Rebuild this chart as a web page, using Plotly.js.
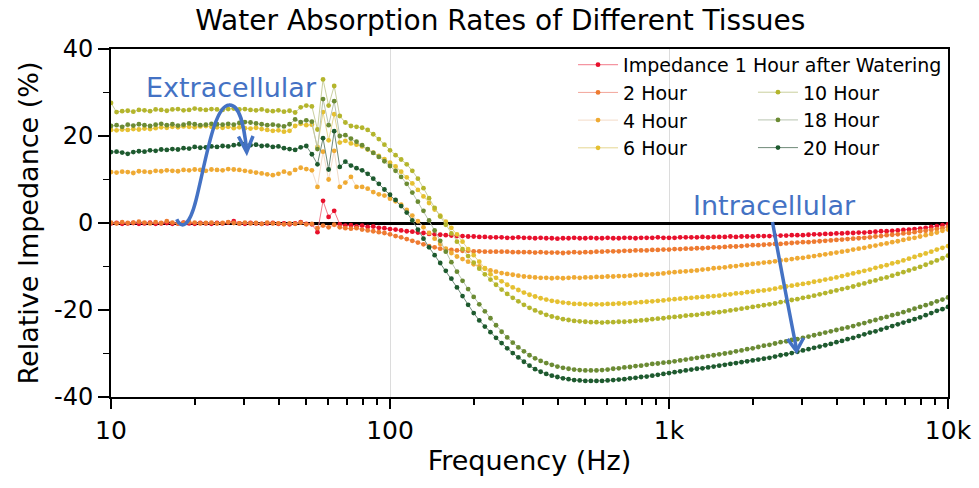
<!DOCTYPE html>
<html>
<head>
<meta charset="utf-8">
<script src="https://cdn.plot.ly/plotly-3.0.1.min.js"></script>
<style>html,body{margin:0;padding:0;background:#fff;}#chart{width:979px;height:488px;}</style>
</head>
<body>
<div id="chart"></div>
<script>
// Frequency sweep: 50 points per decade (mantissa table) over three decades
const MANTISSA = [1, 1.0471, 1.0965, 1.1482, 1.2023, 1.2589, 1.3183, 1.3804, 1.4454, 1.5136,
  1.5849, 1.6596, 1.7378, 1.8197, 1.9055, 1.9953, 2.0893, 2.1878, 2.2909, 2.3988,
  2.5119, 2.6303, 2.7542, 2.884, 3.02, 3.1623, 3.3113, 3.4674, 3.6308, 3.8019,
  3.9811, 4.1687, 4.3652, 4.5709, 4.7863, 5.0119, 5.2481, 5.4954, 5.7544, 6.0256,
  6.3096, 6.6069, 6.9183, 7.2444, 7.5858, 7.9433, 8.3176, 8.7096, 9.1201, 9.5499];
const DECADES = [10, 100, 1000];
const LAST_FREQ = 10000;

const SERIES_NAMES = ["Impedance 1 Hour after Watering", "2 Hour", "4 Hour", "6 Hour", "10 Hour", "18 Hour", "20 Hour"];

const H1 = [-0.1,0.0,-0.2,-0.1,0.0,-0.2,-0.1,0.1,-0.2,-0.1,
  0.0,-0.2,-0.1,0.1,-0.1,-0.2,0.0,-0.1,-0.2,0.0,
  -0.1,0.1,0.4,-0.1,-0.2,0.0,-0.1,-0.2,-0.1,0.0,
  -0.2,-0.1,-0.3,-0.1,0.2,-0.2,-0.3,-2.1,5.1,1.4,
  2.8,-0.3,-0.6,-0.5,-0.8,-0.6,-0.9,-0.8,-1.1,-1.2,
  -1.4,-1.5,-1.7,-1.9,-2.0,-2.2,-2.3,-2.5,-2.6,-2.7,
  -2.8,-2.9,-3.0,-3.0,-3.1,-3.1,-3.2,-3.2,-3.3,-3.3,
  -3.3,-3.4,-3.4,-3.3,-3.4,-3.4,-3.5,-3.4,-3.5,-3.5,
  -3.6,-3.5,-3.5,-3.4,-3.5,-3.5,-3.4,-3.5,-3.5,-3.4,
  -3.5,-3.5,-3.4,-3.4,-3.5,-3.4,-3.4,-3.4,-3.3,-3.4,
  -3.4,-3.4,-3.3,-3.3,-3.3,-3.3,-3.2,-3.3,-3.2,-3.2,
  -3.2,-3.1,-3.2,-3.1,-3.1,-3.1,-3.0,-3.0,-3.0,-2.9,
  -2.9,-2.9,-2.8,-2.8,-2.8,-2.7,-2.6,-2.6,-2.5,-2.5,
  -2.4,-2.4,-2.3,-2.3,-2.2,-2.2,-2.1,-2.0,-1.9,-1.9,
  -1.8,-1.7,-1.6,-1.5,-1.4,-1.3,-1.1,-0.9,-0.7,-0.5,
  -0.3];

const H2 = [0.1,-0.1,0.2,0.0,0.1,0.3,0.1,-0.1,0.2,0.0,
  0.4,0.1,-0.1,0.0,0.2,0.1,-0.1,0.0,0.1,-0.1,
  0.0,0.2,0.0,-0.1,0.1,-0.1,0.0,-0.2,0.1,-0.1,
  -0.1,-0.3,-0.1,-0.2,0.1,-0.3,-0.2,-1.2,-0.6,-1.0,
  -0.4,-1.0,-1.2,-1.3,-1.2,-1.5,-1.7,-1.9,-2.1,-2.3,
  -2.6,-3.0,-3.3,-3.7,-4.1,-4.5,-4.9,-5.3,-5.6,-5.9,
  -6.1,-6.2,-6.3,-6.4,-6.4,-6.5,-6.5,-6.6,-6.6,-6.6,
  -6.6,-6.6,-6.7,-6.7,-6.7,-6.7,-6.8,-6.7,-6.8,-6.8,
  -6.8,-6.9,-6.8,-6.7,-6.8,-6.7,-6.7,-6.6,-6.6,-6.5,
  -6.5,-6.5,-6.4,-6.4,-6.3,-6.3,-6.3,-6.2,-6.2,-6.1,
  -6.1,-6.0,-6.0,-5.9,-5.9,-5.8,-5.8,-5.7,-5.6,-5.6,
  -5.5,-5.4,-5.4,-5.3,-5.2,-5.1,-5.1,-5.0,-4.9,-4.8,
  -4.8,-4.7,-4.6,-4.5,-4.4,-4.4,-4.3,-4.2,-4.1,-4.0,
  -3.9,-3.8,-3.7,-3.6,-3.5,-3.4,-3.3,-3.1,-3.0,-2.8,
  -2.7,-2.6,-2.4,-2.3,-2.1,-1.9,-1.8,-1.6,-1.4,-1.2,
  -0.9];

const H4 = [11.7,11.6,11.8,11.7,11.5,11.9,11.8,11.7,12.0,11.9,
  12.1,12.0,11.9,12.2,12.1,12.3,12.2,12.0,12.3,12.2,
  12.1,12.4,12.3,12.2,12.0,11.8,11.6,11.4,11.2,11.0,
  11.3,11.8,11.4,12.2,12.7,12.4,12.1,8.3,16.4,10.0,
  16.6,8.3,9.3,10.6,8.3,8.3,7.9,7.1,6.6,6.3,
  5.6,5.0,4.2,3.0,1.7,0.4,-1.0,-2.3,-3.6,-4.8,
  -5.9,-6.9,-7.7,-8.3,-8.9,-9.5,-10.0,-10.5,-10.9,-11.2,
  -11.5,-11.7,-11.9,-12.1,-12.3,-12.4,-12.5,-12.6,-12.6,-12.7,
  -12.6,-12.7,-12.6,-12.5,-12.6,-12.5,-12.5,-12.4,-12.4,-12.3,
  -12.3,-12.2,-12.2,-12.1,-12.0,-11.9,-11.9,-11.8,-11.7,-11.6,
  -11.4,-11.3,-11.2,-11.1,-11.0,-10.9,-10.7,-10.6,-10.4,-10.3,
  -10.2,-10.0,-9.9,-9.7,-9.6,-9.4,-9.3,-9.1,-9.0,-8.8,
  -8.6,-8.5,-8.3,-8.1,-8.0,-7.8,-7.6,-7.4,-7.2,-7.0,
  -6.8,-6.6,-6.4,-6.1,-5.9,-5.7,-5.4,-5.2,-4.9,-4.7,
  -4.4,-4.2,-3.9,-3.6,-3.4,-3.1,-2.8,-2.5,-2.2,-1.8,
  -1.5];

const H6 = [21.4,21.3,21.5,21.4,21.6,21.5,21.7,21.6,21.8,22.0,
  21.9,22.1,22.0,22.2,22.1,22.0,22.2,22.3,22.1,22.0,
  21.9,22.1,21.8,22.0,21.8,21.7,21.9,21.6,21.4,21.2,
  21.3,21.0,21.2,22.3,22.8,22.5,22.6,17.5,25.5,19.0,
  25.0,18.5,18.9,18.3,18.0,17.6,16.9,16.2,15.4,14.7,
  13.9,13.0,11.8,10.5,9.1,7.6,6.1,4.6,3.1,1.7,
  0.3,-1.1,-2.6,-4.3,-6.0,-7.4,-8.9,-10.4,-11.8,-12.6,
  -13.4,-14.2,-14.8,-15.4,-16.0,-16.5,-16.9,-17.3,-17.6,-17.9,
  -18.1,-18.3,-18.4,-18.6,-18.6,-18.7,-18.7,-18.7,-18.7,-18.6,
  -18.6,-18.5,-18.5,-18.4,-18.3,-18.2,-18.1,-18.0,-17.9,-17.8,
  -17.6,-17.5,-17.4,-17.3,-17.2,-17.1,-17.0,-16.9,-16.8,-16.7,
  -16.5,-16.4,-16.2,-16.1,-15.9,-15.8,-15.6,-15.5,-15.3,-15.1,
  -14.8,-14.6,-14.4,-14.2,-14.0,-13.8,-13.5,-13.3,-13.0,-12.8,
  -12.5,-12.2,-11.9,-11.6,-11.3,-11.0,-10.7,-10.3,-10.0,-9.7,
  -9.3,-9.0,-8.6,-8.2,-7.8,-7.4,-7.0,-6.6,-6.1,-5.7,
  -5.3];

const H10 = [27.6,25.5,25.7,25.8,25.6,26.0,25.9,25.7,26.1,26.0,
  25.8,26.1,26.2,25.9,26.0,26.3,26.1,26.0,26.2,26.1,
  26.0,26.2,26.3,26.1,26.2,26.0,25.9,26.1,25.8,25.7,
  25.9,25.6,25.8,25.4,26.6,27.0,26.8,21.5,33.0,27.0,
  31.5,24.6,23.1,22.3,22.1,21.9,21.4,20.4,19.3,18.0,
  16.7,15.6,14.6,13.5,12.0,10.2,8.0,5.7,3.5,1.5,
  -0.4,-2.4,-4.3,-6.0,-7.6,-9.1,-10.5,-11.8,-13.0,-14.2,
  -15.3,-16.3,-17.2,-18.0,-18.8,-19.5,-20.1,-20.6,-21.1,-21.5,
  -21.8,-22.1,-22.3,-22.5,-22.6,-22.7,-22.8,-22.8,-22.9,-22.8,
  -22.8,-22.7,-22.7,-22.6,-22.5,-22.4,-22.3,-22.1,-22.0,-21.9,
  -21.7,-21.6,-21.5,-21.3,-21.2,-21.1,-20.9,-20.8,-20.6,-20.5,
  -20.3,-20.1,-19.9,-19.7,-19.5,-19.3,-19.1,-18.9,-18.7,-18.5,
  -18.2,-18.0,-17.7,-17.5,-17.2,-17.0,-16.7,-16.4,-16.1,-15.8,
  -15.5,-15.2,-14.9,-14.6,-14.2,-13.9,-13.5,-13.2,-12.8,-12.5,
  -12.1,-11.7,-11.3,-10.9,-10.5,-10.1,-9.6,-9.1,-8.6,-8.1,
  -7.5];

const H18 = [22.3,22.5,22.1,22.6,22.4,22.7,22.5,22.3,22.6,22.8,
  22.5,22.7,22.4,22.6,22.9,22.7,22.5,22.6,22.8,22.7,
  22.6,22.8,22.6,23.0,23.2,23.1,22.9,22.7,22.5,22.6,
  22.4,22.2,22.7,23.8,23.2,23.6,23.3,17.0,28.5,22.5,
  28.0,20.0,20.2,19.4,18.7,17.9,17.0,16.1,15.2,14.2,
  13.1,12.0,10.6,9.0,7.0,4.9,2.8,0.6,-1.7,-4.1,
  -6.6,-9.0,-11.2,-13.3,-15.2,-17.0,-18.7,-20.3,-21.9,-23.5,
  -25.0,-26.3,-27.5,-28.6,-29.5,-30.4,-31.1,-31.7,-32.2,-32.6,
  -33.0,-33.3,-33.5,-33.7,-33.8,-33.9,-33.9,-33.9,-33.8,-33.7,
  -33.5,-33.4,-33.2,-33.1,-32.9,-32.8,-32.6,-32.4,-32.3,-32.1,
  -32.0,-31.8,-31.6,-31.4,-31.2,-31.0,-30.8,-30.6,-30.4,-30.2,
  -30.0,-29.8,-29.5,-29.3,-29.0,-28.8,-28.5,-28.2,-28.0,-27.7,
  -27.4,-27.2,-26.9,-26.7,-26.4,-26.1,-25.8,-25.5,-25.2,-24.9,
  -24.6,-24.3,-24.0,-23.7,-23.3,-23.0,-22.6,-22.3,-21.9,-21.6,
  -21.2,-20.9,-20.5,-20.1,-19.7,-19.3,-18.9,-18.5,-18.0,-17.6,
  -17.1];

const H20 = [16.3,16.4,16.2,15.9,16.3,16.5,16.4,16.7,16.6,16.9,
  16.8,17.0,16.9,17.2,17.1,17.5,17.3,17.4,17.6,17.5,
  17.7,17.6,17.9,18.1,18.2,17.9,18.0,17.7,17.8,17.5,
  17.6,17.2,17.0,16.8,17.4,17.7,15.8,13.5,19.5,12.3,
  21.1,12.9,14.1,13.2,12.6,12.1,11.3,10.2,9.0,7.7,
  6.5,5.3,3.9,2.4,0.6,-1.5,-3.6,-5.6,-7.4,-9.2,
  -11.0,-12.8,-14.8,-16.8,-18.8,-20.7,-22.4,-23.8,-25.1,-26.4,
  -27.6,-28.8,-29.9,-30.9,-31.9,-32.8,-33.6,-34.2,-34.7,-35.1,
  -35.4,-35.7,-35.9,-36.1,-36.2,-36.3,-36.3,-36.3,-36.3,-36.2,
  -36.1,-36.0,-35.9,-35.7,-35.6,-35.4,-35.3,-35.1,-34.9,-34.7,
  -34.5,-34.3,-34.1,-33.9,-33.7,-33.5,-33.4,-33.2,-33.0,-32.8,
  -32.6,-32.4,-32.2,-32.0,-31.8,-31.6,-31.4,-31.2,-31.0,-30.7,
  -30.4,-30.2,-29.9,-29.6,-29.3,-29.0,-28.7,-28.4,-28.1,-27.8,
  -27.4,-27.1,-26.7,-26.4,-26.0,-25.6,-25.2,-24.9,-24.5,-24.1,
  -23.7,-23.3,-22.9,-22.5,-22.1,-21.7,-21.2,-20.7,-20.2,-19.8,
  -19.3];

const X_TICK_VALUES = [10, 100, 1000, 10000];
const X_TICK_LABELS = ["10", "100", "1k", "10k"];
const Y_TICK_VALUES = [-40, -20, 0, 20, 40];
const Y_TICK_LABELS = ["-40", "-20", "0", "20", "40"];

// ---- styling ----
const FONT = "DejaVu Sans, Arial, sans-serif";
const MARKER_COLORS = ["#e8102c", "#ee7b30", "#efaa33", "#e5c030", "#b4b52c", "#6b8b33", "#1d5a2e"];
const LINE_COLORS = ["#f27a8a", "#f2a59a", "#f3dcc8", "#e5d690", "#c9cf9e", "#b8c4b0", "#6f8a78"];
const LEGEND_OF = ["legend", "legend", "legend", "legend", "legend2", "legend2", "legend2"];

const freq = [];
DECADES.forEach(d => MANTISSA.forEach(m => freq.push(+(d * m).toFixed(3))));
freq.push(LAST_FREQ);

const values = [H1, H2, H4, H6, H10, H18, H20];
const traces = values.map((v, k) => ({
  type: "scatter",
  mode: "lines+markers",
  name: SERIES_NAMES[k],
  x: freq,
  y: v,
  legend: LEGEND_OF[k],
  line: {color: LINE_COLORS[k], width: 1},
  marker: {color: MARKER_COLORS[k], size: 4.8},
  hoverinfo: "skip"
}));

const PLOT = {l: 111, t: 49, w: 837, h: 348};
function pp(px, py) {
  return ((px - PLOT.l) / PLOT.w).toFixed(4) + "," + ((PLOT.t + PLOT.h - py) / PLOT.h).toFixed(4);
}
const BLUE = "#4472c4";
const arrow1 = "M " + pp(176.7, 219.3) + " C " + pp(181, 229) + " " + pp(189, 228) + " " + pp(196, 200) +
  " C " + pp(206, 160) + " " + pp(214, 106) + " " + pp(229, 105) +
  " C " + pp(240, 104) + " " + pp(244, 126) + " " + pp(246.7, 150);
const head1 = "M " + pp(238.5, 136.5) + " L " + pp(246.7, 152) + " L " + pp(253, 136);
const arrow2 = "M " + pp(772.5, 222) + " Q " + pp(783, 280) + " " + pp(796.5, 349);
const head2 = "M " + pp(787.5, 339) + " L " + pp(796.5, 351) + " L " + pp(803.5, 338);

const shapeLine = {color: BLUE, width: 3.5};
const layout = {
  width: 979, height: 488,
  margin: {l: PLOT.l, r: 979 - PLOT.l - PLOT.w, t: PLOT.t, b: 488 - PLOT.t - PLOT.h},
  paper_bgcolor: "#ffffff", plot_bgcolor: "#ffffff",
  font: {family: FONT, color: "#000000"},
  title: {text: "Water Absorption Rates of Different Tissues", font: {family: FONT, size: 28, color: "#000"},
          x: 0.511, xref: "container", xanchor: "center", y: 0.958, yref: "container", yanchor: "middle"},
  xaxis: {
    type: "log", range: [1, 4],
    tickvals: X_TICK_VALUES, ticktext: X_TICK_LABELS,
    ticks: "outside", ticklen: 10, tickwidth: 2, tickcolor: "#000",
    showline: true, linecolor: "#000", linewidth: 2, mirror: true,
    showgrid: true, gridcolor: "#dcdcdc", gridwidth: 1,
    zeroline: false,
    tickfont: {family: FONT, size: 25, color: "#000"},
    title: {text: "Frequency (Hz)", font: {family: FONT, size: 27, color: "#000"}, standoff: 7},
    minor: {ticks: "outside", ticklen: 6, tickwidth: 1.5, tickcolor: "#000", dtick: "D1", showgrid: false}
  },
  yaxis: {
    range: [-40, 40], tickvals: Y_TICK_VALUES, ticktext: Y_TICK_LABELS,
    ticks: "outside", ticklen: 11, tickwidth: 2, tickcolor: "#000",
    showline: true, linecolor: "#000", linewidth: 2, mirror: true,
    showgrid: false,
    zeroline: true, zerolinecolor: "#000", zerolinewidth: 3,
    tickfont: {family: FONT, size: 24, color: "#000"},
    title: {text: "Relative Impedance (%)", font: {family: FONT, size: 27, color: "#000"}, standoff: 8},
    minor: {ticks: "outside", ticklen: 6, tickwidth: 1.5, tickcolor: "#000", dtick: 10, showgrid: false}
  },
  legend: {x: 0.552, y: 1.009, xanchor: "left", yanchor: "top", bgcolor: "rgba(0,0,0,0)",
           font: {family: FONT, size: 19, color: "#000"}, itemwidth: 40, tracegroupgap: 0},
  legend2: {x: 0.767, y: 0.93, xanchor: "left", yanchor: "top", bgcolor: "rgba(0,0,0,0)",
            font: {family: FONT, size: 19, color: "#000"}, itemwidth: 40, tracegroupgap: 0},
  annotations: [
    {text: "Extracellular", xref: "paper", yref: "paper", x: (231 - PLOT.l) / PLOT.w, y: (PLOT.t + PLOT.h - 88) / PLOT.h,
     xanchor: "center", yanchor: "middle", showarrow: false, font: {family: FONT, size: 27, color: BLUE}},
    {text: "Intracellular", xref: "paper", yref: "paper", x: (774 - PLOT.l) / PLOT.w, y: (PLOT.t + PLOT.h - 205) / PLOT.h,
     xanchor: "center", yanchor: "middle", showarrow: false, font: {family: FONT, size: 27, color: BLUE}}
  ],
  shapes: [
    {type: "path", xref: "paper", yref: "paper", path: arrow1, line: shapeLine},
    {type: "path", xref: "paper", yref: "paper", path: head1, line: shapeLine},
    {type: "path", xref: "paper", yref: "paper", path: arrow2, line: shapeLine},
    {type: "path", xref: "paper", yref: "paper", path: head2, line: shapeLine}
  ]
};

Plotly.newPlot("chart", traces, layout, {staticPlot: true, displayModeBar: false});
</script>
</body>
</html>
